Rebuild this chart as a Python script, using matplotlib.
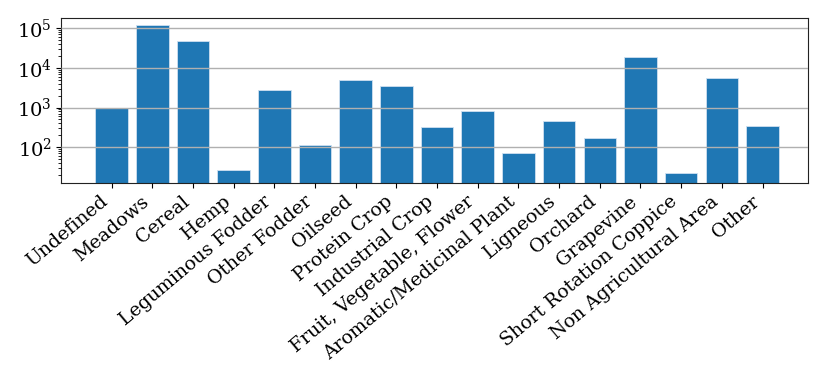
import matplotlib
matplotlib.use('Agg')
import matplotlib.pyplot as plt

categories = ['Undefined', 'Meadows', 'Cereal', 'Hemp', 'Leguminous Fodder',
              'Other Fodder', 'Oilseed', 'Protein Crop', 'Industrial Crop',
              'Fruit, Vegetable, Flower', 'Aromatic/Medicinal Plant',
              'Ligneous', 'Orchard', 'Grapevine', 'Short Rotation Coppice',
              'Non Agricultural Area', 'Other']
counts = [985, 117000, 46000, 26, 2790, 114, 4880, 3450, 330, 826, 73,
          466, 174, 18600, 22, 5570, 343]

plt.rcParams['font.family'] = 'DejaVu Serif'

fig, ax = plt.subplots(figsize=(8.31, 3.77), dpi=100)
ax.bar(range(len(categories)), counts, width=0.8, color='#1f77b4',
       edgecolor='#cfe0f0', linewidth=0.6)
ax.set_yscale('log')
ax.set_ylim(12.7, 1.78e5)
ax.set_xlim(-1.23, 17.11)
ax.grid(True, axis='y', which='major', color='#b0b0b0', linewidth=1.0)
ax.set_axisbelow(False)
ax.set_xticks(range(len(categories)))
ax.set_xticklabels(categories, rotation=40, ha='right', fontsize=13.6)
ax.tick_params(axis='y', labelsize=14)
for s in ax.spines.values():
    s.set_color('#222222')

plt.subplots_adjust(left=0.074, right=0.972, top=0.952, bottom=0.515)
fig.savefig('out.png', dpi=100)
